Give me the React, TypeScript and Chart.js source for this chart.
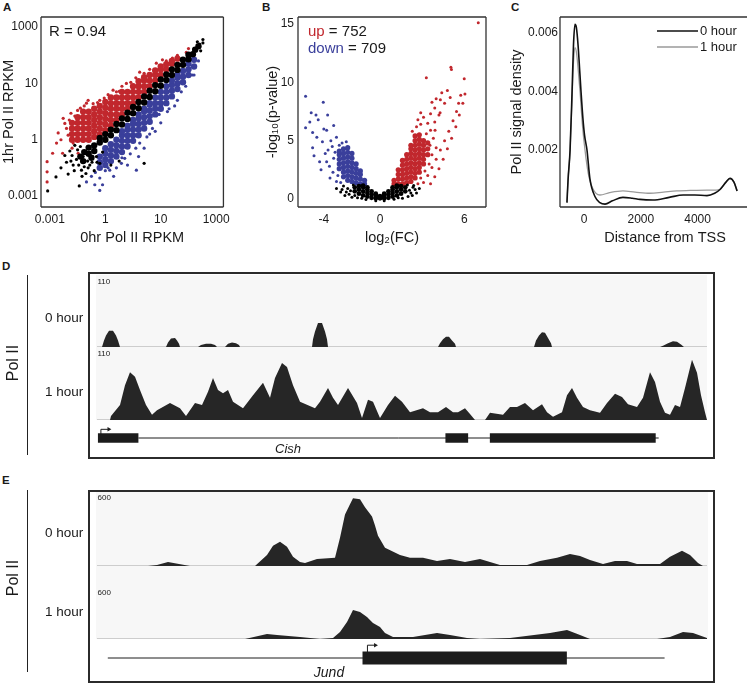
import React, { useEffect, useRef } from 'react';
import { Chart, registerables } from 'chart.js';

Chart.register(...registerables);

const FONT = '"Liberation Sans", Arial, Helvetica, sans-serif';
const INK = '#1a1a1a';
const RED = '#c1272d';
const BLUE = '#3a3f9b';
const BLACK = '#000000';
const TRACK_FILL = '#262626';
const TRACK_BG = '#f7f7f7';
const GENE_INK = '#1c1c1c';
const GRAY_LINE = '#9a9a9a';

// ---------------- Panel A data (axis units: tick index) ----------------
const A_TICK_VALUES = [0, 1, 2, 3];
const A_TICK_LABELS = ['0.001', '1', '10', '1000'];
const A_X_TITLE = '0hr Pol II RPKM';
const A_Y_TITLE = '1hr Pol II RPKM';
const A_R_LABEL = 'R = 0.94';

const A_BLACK_CORE = [
  [0.55, 0.7], [0.62, 0.78], [0.6, 0.62], [0.7, 0.86], [0.7, 0.75], [0.75, 0.68], [0.8, 0.9], [0.8, 0.8],
  [0.9, 0.95], [0.9, 1.03], [1.0, 1.0], [1.0, 1.1], [1.1, 1.08], [1.1, 1.18], [1.2, 1.17], [1.2, 1.28],
  [1.3, 1.27], [1.3, 1.38], [1.4, 1.37], [1.4, 1.48], [1.5, 1.47], [1.5, 1.58], [1.6, 1.56], [1.6, 1.67],
  [1.7, 1.66], [1.7, 1.77], [1.8, 1.76], [1.8, 1.87], [1.9, 1.86], [1.9, 1.97], [2.0, 1.96], [2.0, 2.07],
  [2.1, 2.06], [2.1, 2.16], [2.2, 2.15], [2.2, 2.25], [2.3, 2.24], [2.3, 2.33], [2.4, 2.33], [2.4, 2.42],
  [2.5, 2.43], [2.5, 2.51], [2.58, 2.52], [2.62, 2.6], [2.68, 2.66],
];
const A_BLACK_SPARSE = [
  [-0.04, 0.09], [0.11, 0.34], [0.33, 0.39], [0.42, 0.55], [0.53, 0.18], [0.57, 0.46], [0.69, 0.5],
  [0.9, 0.58], [1.1, 0.55], [1.25, 0.62], [1.7, 0.58], [0.48, 0.65], [0.62, 0.52], [0.65, 0.4],
  [0.76, 0.6], [0.5, 0.82], [0.4, 0.72], [0.84, 0.7], [0.3, 0.6], [0.2, 0.5], [0.58, 0.35], [0.8, 0.45],
  [0.45, 0.9], [0.36, 0.8], [0.95, 0.78], [0.52, 0.55], [0.68, 0.62], [0.44, 0.45], [0.72, 0.55],
  [0.6, 0.7], [0.85, 0.6], [0.38, 0.62], [0.27, 0.72], [0.55, 0.88],
  [2.76, 2.78], [2.76, 2.72], [2.7, 2.7], [2.72, 2.58], [2.66, 2.74],
];
const A_RED_CORE = [
  [0.4, 1.0], [0.4, 1.1], [0.4, 1.2], [0.4, 1.3],
  [0.5, 1.0], [0.5, 1.1], [0.5, 1.2], [0.5, 1.3], [0.5, 1.4],
  [0.6, 1.0], [0.6, 1.1], [0.6, 1.2], [0.6, 1.3], [0.6, 1.4], [0.6, 1.5],
  [0.7, 1.0], [0.7, 1.1], [0.7, 1.2], [0.7, 1.3], [0.7, 1.4], [0.7, 1.5],
  [0.8, 1.05], [0.8, 1.15], [0.8, 1.25], [0.8, 1.35], [0.8, 1.45], [0.8, 1.55],
  [0.9, 1.1], [0.9, 1.2], [0.9, 1.3], [0.9, 1.4], [0.9, 1.5], [0.9, 1.6],
  [1.0, 1.17], [1.0, 1.27], [1.0, 1.37], [1.0, 1.47], [1.0, 1.57], [1.0, 1.67],
  [1.1, 1.25], [1.1, 1.35], [1.1, 1.45], [1.1, 1.55], [1.1, 1.65], [1.1, 1.75],
  [1.2, 1.35], [1.2, 1.45], [1.2, 1.55], [1.2, 1.65], [1.2, 1.75],
  [1.3, 1.45], [1.3, 1.55], [1.3, 1.65], [1.3, 1.75], [1.3, 1.85],
  [1.4, 1.55], [1.4, 1.65], [1.4, 1.75], [1.4, 1.85],
  [1.5, 1.65], [1.5, 1.75], [1.5, 1.85], [1.5, 1.95],
  [1.6, 1.75], [1.6, 1.85], [1.6, 1.95], [1.6, 2.04],
  [1.7, 1.85], [1.7, 1.95], [1.7, 2.05], [1.7, 2.11],
  [1.8, 1.95], [1.8, 2.05], [1.8, 2.15],
  [1.9, 2.05], [1.9, 2.15], [1.9, 2.23],
  [2.0, 2.15], [2.0, 2.25], [2.0, 2.3],
  [2.1, 2.25], [2.1, 2.34], [2.2, 2.35], [2.2, 2.4], [2.3, 2.44],
];
const A_RED_SPARSE = [
  [-0.05, 0.61], [-0.05, 0.43], [-0.05, 0.25], [0.05, 0.76], [0.12, 0.94], [0.23, 0.76], [0.27, 1.29],
  [0.33, 1.08], [0.38, 1.47], [0.24, 1.38], [0.42, 0.94], [0.51, 0.76], [0.3, 1.2], [0.35, 1.35],
  [0.5, 1.52], [0.55, 1.56], [0.62, 1.6], [0.66, 1.65], [0.69, 1.7], [0.78, 1.64], [0.9, 1.7], [0.98, 1.74],
  [1.05, 1.8], [1.14, 1.88], [1.2, 1.85], [1.3, 1.95], [1.38, 2.0], [1.46, 2.02], [1.55, 2.1], [1.62, 2.2],
  [1.7, 2.18], [1.8, 2.25], [1.92, 2.36], [2.03, 2.42], [2.1, 2.4], [2.21, 2.45], [2.3, 2.5], [0.2, 1.0],
  [0.15, 1.12], [0.4, 0.85], [0.45, 1.42], [2.46, 2.55], [2.5, 2.62], [0.86, 1.66], [1.25, 1.86],
];
const A_BLUE_CORE = [
  [0.9, 0.5], [0.9, 0.6], [0.9, 0.7],
  [1.0, 0.55], [1.0, 0.65], [1.0, 0.75], [1.0, 0.85],
  [1.1, 0.62], [1.1, 0.72], [1.1, 0.82], [1.1, 0.92],
  [1.2, 0.7], [1.2, 0.8], [1.2, 0.9], [1.2, 1.0],
  [1.3, 0.78], [1.3, 0.88], [1.3, 0.98], [1.3, 1.08], [1.3, 1.15],
  [1.4, 0.88], [1.4, 0.98], [1.4, 1.08], [1.4, 1.18], [1.4, 1.25],
  [1.5, 0.98], [1.5, 1.08], [1.5, 1.18], [1.5, 1.28], [1.5, 1.35],
  [1.6, 1.08], [1.6, 1.18], [1.6, 1.28], [1.6, 1.38], [1.6, 1.45],
  [1.7, 1.2], [1.7, 1.3], [1.7, 1.4], [1.7, 1.5], [1.7, 1.55],
  [1.8, 1.32], [1.8, 1.42], [1.8, 1.52], [1.8, 1.62], [1.8, 1.65],
  [1.9, 1.45], [1.9, 1.55], [1.9, 1.65], [1.9, 1.75],
  [2.0, 1.55], [2.0, 1.65], [2.0, 1.75], [2.0, 1.85],
  [2.1, 1.65], [2.1, 1.75], [2.1, 1.85], [2.1, 1.95],
  [2.2, 1.77], [2.2, 1.87], [2.2, 1.97], [2.2, 2.05],
  [2.3, 1.9], [2.3, 2.0], [2.3, 2.1], [2.3, 2.15],
  [2.4, 2.02], [2.4, 2.12], [2.4, 2.22],
  [2.5, 2.15], [2.5, 2.25], [2.5, 2.35], [2.6, 2.3], [2.6, 2.42],
];
const A_BLUE_SPARSE = [
  [0.9, 0.1], [0.81, 0.2], [0.66, 0.25], [0.9, 0.32], [1.08, 0.46], [1.29, 0.58], [1.35, 0.67],
  [1.56, 0.46], [1.62, 0.94], [1.85, 1.2], [1.97, 1.45], [2.12, 1.5], [1.0, 0.45], [1.2, 0.5],
  [1.45, 0.75], [1.7, 0.85], [1.75, 1.05], [2.0, 1.3], [2.25, 1.6], [2.37, 1.85], [2.57, 2.15],
  [2.15, 1.55], [2.45, 1.95], [0.75, 0.35], [1.15, 0.35], [1.4, 0.55], [1.9, 1.15], [2.3, 1.7],
  [2.6, 2.15], [0.95, 0.2], [1.6, 0.7], [1.05, 0.5], [1.3, 0.68], [1.55, 0.85], [1.8, 1.1],
  [0.82, 0.42], [2.68, 2.4],
];

// ---------------- Panel B data (log2 FC, -log10 p) ----------------
const B_X_TICKS = [-4, 0, 6];
const B_Y_TICKS = [0, 5, 10, 15];
const B_X_TITLE = 'log₂(FC)';
const B_Y_TITLE = '-log₁₀(p-value)';
const B_UP_COUNT = 752;
const B_DOWN_COUNT = 709;

const B_BLACK_CORE = [
  [0, 0.05], [0, 0.25], [0.3, 0.05], [0.3, 0.3], [0.3, 0.45], [-0.3, 0.05], [-0.3, 0.3], [-0.3, 0.45],
  [0.6, 0.1], [0.6, 0.4], [0.6, 0.65], [-0.6, 0.1], [-0.6, 0.4], [-0.6, 0.65],
  [0.9, 0.2], [0.9, 0.5], [0.9, 0.8], [0.9, 1.0], [-0.9, 0.2], [-0.9, 0.5], [-0.9, 0.8], [-0.9, 1.0],
  [1.2, 0.3], [1.2, 0.65], [1.2, 1.0], [1.2, 1.15], [-1.2, 0.3], [-1.2, 0.65], [-1.2, 1.0], [-1.2, 1.15],
  [1.5, 0.45], [1.5, 0.8], [1.5, 1.1], [-1.5, 0.45], [-1.5, 0.8], [-1.5, 1.1],
  [1.8, 0.65], [1.8, 1.0], [-1.8, 0.65], [-1.8, 1.0], [0.15, 0.15], [-0.15, 0.15],
];
const B_BLACK_SPARSE = [
  [-3.1, 0.9], [-2.8, 0.6], [-2.5, 0.3], [-2.2, 0.4], [-2.6, 1.1], [2.35, 1.0], [2.5, 0.8], [2.2, 0.5],
  [2.0, 0.2], [-2.0, 0.15], [1.6, 0.05], [-1.6, 0.1], [2.8, 0.9], [-2.3, 0.9], [-2.1, 0.7], [2.1, 0.75],
  [-1.3, 0.05], [1.3, 0.1], [-2.7, 0.8], [2.6, 0.5], [-1.0, -0.05], [1.0, -0.02], [0.3, -0.15],
  [-0.3, -0.15], [2.4, 1.15], [-1.9, 1.2], [1.95, 1.2], [-2.4, 0.6], [2.3, 0.3], [-1.8, 0.3],
];
const B_RED_CORE = [
  [1.0, 1.3], [1.0, 1.6],
  [1.3, 1.3], [1.3, 1.7], [1.3, 2.1], [1.3, 2.5],
  [1.6, 1.3], [1.6, 1.7], [1.6, 2.1], [1.6, 2.5], [1.6, 2.9], [1.6, 3.3],
  [1.9, 1.4], [1.9, 1.8], [1.9, 2.2], [1.9, 2.6], [1.9, 3.0], [1.9, 3.4], [1.9, 3.8],
  [2.2, 1.5], [2.2, 1.9], [2.2, 2.3], [2.2, 2.7], [2.2, 3.1], [2.2, 3.5], [2.2, 3.9], [2.2, 4.3], [2.2, 4.6],
  [2.5, 1.8], [2.5, 2.2], [2.5, 2.6], [2.5, 3.0], [2.5, 3.4], [2.5, 3.8], [2.5, 4.2], [2.5, 4.6], [2.5, 5.0], [2.5, 5.4],
  [2.8, 2.3], [2.8, 2.7], [2.8, 3.1], [2.8, 3.5], [2.8, 3.9], [2.8, 4.3], [2.8, 4.7], [2.8, 5.1], [2.8, 5.5],
  [3.1, 3.0], [3.1, 3.4], [3.1, 3.8], [3.1, 4.2], [3.1, 4.6], [3.1, 5.0],
  [3.4, 3.8], [3.4, 4.3], [3.4, 4.8],
];
const B_RED_SPARSE = [
  [2.3, 5.8], [2.6, 6.2], [2.9, 6.4], [2.7, 6.8], [3.1, 7.0], [2.9, 7.4], [3.4, 6.5], [3.6, 7.3],
  [3.9, 7.8], [3.7, 8.3], [4.0, 8.6], [4.3, 8.5], [4.4, 9.1], [4.8, 9.3], [4.6, 8.2], [5.0, 8.7],
  [3.3, 10.4], [5.09, 11.1], [5.05, 11.3], [6.0, 10.3], [7.0, 15.1], [3.6, 5.9], [3.8, 5.2], [4.0, 4.4],
  [3.7, 3.8], [3.5, 3.0], [3.2, 2.4], [2.9, 1.8], [2.7, 1.3], [3.3, 5.6], [3.9, 6.6], [4.2, 7.2],
  [3.1, 1.4], [3.4, 2.0], [3.7, 2.7], [4.0, 3.4], [4.3, 4.2], [4.6, 5.0], [4.9, 5.8], [5.2, 6.7],
  [5.45, 7.5], [5.6, 8.2], [5.75, 8.9], [3.6, 1.3], [3.9, 1.9], [4.2, 2.6], [4.5, 3.4], [4.8, 4.3],
  [5.1, 5.2], [5.4, 6.2], [5.65, 7.2], [5.9, 8.2], [6.05, 9.0], [3.56, 4.6], [3.92, 5.9], [4.28, 7.4],
];
const B_BLUE_CORE = [
  [-1.1, 1.3], [-1.1, 1.6],
  [-1.4, 1.3], [-1.4, 1.7], [-1.4, 2.1], [-1.4, 2.4],
  [-1.7, 1.4], [-1.7, 1.8], [-1.7, 2.2], [-1.7, 2.6], [-1.7, 3.0],
  [-2.0, 1.5], [-2.0, 1.9], [-2.0, 2.3], [-2.0, 2.7], [-2.0, 3.1], [-2.0, 3.5], [-2.0, 3.9],
  [-2.3, 1.6], [-2.3, 2.0], [-2.3, 2.4], [-2.3, 2.8], [-2.3, 3.2], [-2.3, 3.6], [-2.3, 4.0], [-2.3, 4.4],
  [-2.6, 1.9], [-2.6, 2.3], [-2.6, 2.7], [-2.6, 3.1], [-2.6, 3.5], [-2.6, 3.9], [-2.6, 4.3],
  [-2.9, 2.6], [-2.9, 3.0], [-2.9, 3.4], [-2.9, 3.8], [-2.9, 4.1],
];
const B_BLUE_SPARSE = [
  [-5.3, 8.8], [-4.04, 8.3], [-4.9, 7.4], [-4.56, 7.2], [-3.73, 7.2], [-5.3, 6.1], [-4.4, 6.8],
  [-4.8, 5.7], [-3.8, 5.9], [-4.1, 4.9], [-3.1, 5.3], [-3.4, 4.5], [-4.8, 4.4], [-4.3, 3.2],
  [-3.56, 1.8], [-3.35, 2.3], [-3.9, 3.9], [-3.3, 3.5], [-3.6, 2.8], [-3.1, 1.5], [-3.0, 2.0],
  [-2.7, 4.8], [-2.4, 4.9], [-3.3, 6.3], [-4.5, 5.3], [-5.0, 6.6], [-4.7, 3.7], [-3.8, 3.2],
  [-4.2, 2.5], [-2.8, 1.4], [-3.5, 5.0], [-3.2, 4.0], [-3.7, 4.2], [-2.9, 4.6], [-4.0, 6.0],
];

// ---------------- Panel C data ----------------
const C_X_TICKS = [0, 2000, 4000];
const C_Y_TICKS = [0.002, 0.004, 0.006];
const C_X_TITLE = 'Distance from TSS';
const C_Y_TITLE = 'Pol II signal density';
const C_SERIES_LABELS = ['0 hour', '1 hour'];
const C_HOUR0 = [
  [-600, 0.0002], [-560, 0.001], [-490, 0.002], [-420, 0.004], [-370, 0.0056], [-317, 0.0063],
  [-270, 0.0062], [-210, 0.0056], [-150, 0.0047], [-105, 0.004], [-40, 0.0031], [20, 0.0025],
  [105, 0.002], [210, 0.001], [390, 0.0004], [560, 0.0002], [740, 0.00015], [1000, 0.00026],
  [1370, 0.00038], [1700, 0.00035], [1970, 0.00031], [2430, 0.00029], [3000, 0.00038], [3490, 0.00046],
  [3900, 0.00046], [4330, 0.00044], [4600, 0.00052], [4790, 0.00065], [5000, 0.0009], [5140, 0.00103],
  [5280, 0.0009], [5390, 0.0006],
];
const C_HOUR1 = [
  [-600, 0.0002], [-560, 0.001], [-490, 0.002], [-420, 0.0038], [-370, 0.005], [-317, 0.0055],
  [-260, 0.0053], [-200, 0.0047], [-140, 0.004], [-50, 0.0028], [35, 0.002], [150, 0.0012],
  [300, 0.0007], [560, 0.00046], [900, 0.00054], [1370, 0.0006], [1800, 0.00056], [2320, 0.00052],
  [2800, 0.00056], [3270, 0.0006], [3800, 0.00062], [4330, 0.00063], [4650, 0.00063], [4790, 0.00066],
  [5000, 0.0009], [5140, 0.00103], [5280, 0.0009], [5390, 0.0006],
];

// ---------------- Panel D / E genome tracks ----------------
const TRACK_SPAN = 610;
const HOUR_LABELS = ['0 hour', '1 hour'];
const D_MAX = 110;
const E_MAX = 600;
const D_HOUR0 = [
  [0, 0], [5, 0], [7, 10], [9, 18], [12, 25], [16, 25], [19, 18], [21, 10], [23, 0], [69, 0], [71, 7],
  [74, 13], [78, 14], [80, 10], [82, 5], [83, 0], [101, 0], [104, 3], [109, 5], [114, 5], [118, 3],
  [120, 0], [128, 0], [131, 5], [135, 7], [139, 6], [142, 3], [143, 0], [215, 0], [216, 12], [218, 24],
  [221, 37], [225, 37], [228, 24], [230, 12], [231, 0], [341, 0], [343, 6], [346, 12], [349, 16],
  [352, 16], [355, 10], [358, 5], [359, 0], [437, 0], [439, 10], [442, 18], [445, 23], [448, 22],
  [451, 14], [454, 6], [455, 0], [563, 0], [566, 2], [571, 6], [576, 9], [580, 8], [584, 4], [587, 0],
  [610, 0],
];
const D_HOUR1 = [
  [0, 0], [13, 0], [14, 6], [23, 23], [28, 53], [33, 73], [38, 66], [43, 46], [49, 23], [55, 8], [60, 15],
  [73, 26], [83, 18], [89, 6], [98, 26], [105, 23], [111, 43], [116, 64], [121, 46], [126, 41], [131, 46],
  [136, 28], [146, 18], [156, 38], [166, 57], [173, 34], [178, 64], [185, 87], [190, 81], [196, 53],
  [203, 28], [218, 18], [223, 28], [231, 49], [236, 34], [241, 23], [251, 49], [260, 26], [265, 3],
  [271, 31], [276, 28], [283, 3], [291, 23], [298, 37], [305, 28], [313, 12], [326, 18], [333, 12],
  [341, 12], [349, 20], [356, 12], [361, 12], [368, 18], [373, 9], [378, 0], [388, 0], [393, 11],
  [406, 8], [413, 20], [420, 20], [428, 26], [436, 15], [445, 24], [450, 12], [456, 5], [465, 12],
  [470, 38], [475, 49], [480, 34], [486, 20], [493, 15], [503, 11], [510, 26], [518, 40], [525, 35],
  [531, 24], [540, 20], [546, 34], [553, 73], [558, 58], [563, 28], [568, 11], [573, 8], [578, 23],
  [583, 20], [588, 49], [595, 92], [600, 72], [604, 38], [608, 12], [610, 0],
];
const E_HOUR0 = [
  [0, 0], [51, 0], [60, 8], [71, 33], [82, 16], [93, 0], [158, 0], [170, 90], [176, 164], [183, 197],
  [190, 156], [196, 74], [203, 33], [208, 25], [220, 57], [238, 66], [243, 230], [248, 418], [253, 500],
  [256, 549], [263, 541], [268, 476], [275, 402], [278, 328], [281, 246], [288, 148], [303, 90],
  [313, 66], [326, 66], [340, 41], [353, 57], [368, 33], [383, 57], [393, 33], [403, 8], [430, 8],
  [443, 41], [460, 66], [473, 98], [483, 82], [493, 49], [506, 16], [518, 41], [530, 41], [540, 16],
  [563, 16], [573, 74], [585, 123], [593, 90], [601, 25], [606, 0], [610, 0],
];
const E_HOUR1 = [
  [0, 0], [148, 0], [170, 58], [180, 46], [203, 23], [223, 0], [236, 12], [243, 80], [250, 196],
  [256, 334], [263, 311], [270, 253], [276, 184], [283, 138], [288, 69], [296, 23], [316, 23], [340, 69],
  [353, 46], [370, 12], [383, 0], [413, 12], [453, 69], [470, 104], [483, 46], [493, 0], [560, 0],
  [573, 23], [586, 80], [596, 69], [610, 12],
];

// gene models (same coordinate system as tracks)
const D_GENE = 'Cish';
const D_INTRON = [38, 565];
const D_EXONS = [[-3, 38], [349, 372], [394, 562]];
const D_TSS = 0;
const E_GENE = 'Jund';
const E_INTRON = [7, 571];
const E_EXONS = [[265, 472]];
const E_TSS = 270;
const ARROW_LEN = 8;
const GENE_Y = 0.5;

// ---------------- helpers ----------------
const pts = (a: number[][]) => a.map(([x, y]) => ({ x, y }));

const BASE = {
  animation: false,
  responsive: false,
  events: [] as string[],
  plugins: { legend: { display: false }, tooltip: { enabled: false } },
};

function scatterSet(data: number[][], color: string, r: number) {
  return {
    data: pts(data),
    backgroundColor: color,
    borderColor: color,
    borderWidth: 0,
    pointRadius: r,
    pointHoverRadius: r,
    pointStyle: 'circle',
  };
}

function bottomAxis(min: number, max: number, ticks: number[], fmt: (v: number, i: number) => string, title: string, height: number) {
  return {
    type: 'linear',
    position: 'bottom',
    min,
    max,
    afterBuildTicks: (s: any) => { s.ticks = ticks.map((v) => ({ value: v })); },
    afterFit: (s: any) => { s.height = height; },
    grid: { display: false, drawTicks: false },
    border: { display: false },
    ticks: {
      autoSkip: false, maxRotation: 0, minRotation: 0, padding: 5, color: INK,
      font: { family: FONT, size: 12 },
      callback: (v: number, i: number) => fmt(v, i),
    },
    title: { display: true, text: title, color: INK, font: { family: FONT, size: 14.5 }, padding: { top: 0, bottom: 3.3 } },
  };
}

function leftAxis(min: number, max: number, ticks: number[], fmt: (v: number, i: number) => string, title: string, width: number, tickPad: number, titlePad: number) {
  return {
    type: 'linear',
    position: 'left',
    min,
    max,
    afterBuildTicks: (s: any) => { s.ticks = ticks.map((v) => ({ value: v })); },
    afterFit: (s: any) => { s.width = width; },
    grid: { display: false, drawTicks: false },
    border: { display: false },
    ticks: {
      autoSkip: false, padding: tickPad, color: INK,
      font: { family: FONT, size: 12 },
      callback: (v: number, i: number) => fmt(v, i),
    },
    title: { display: true, text: title, color: INK, font: { family: FONT, size: 14.5 }, padding: { top: titlePad, bottom: 0 } },
  };
}

function framePlugin(sides: { left?: boolean; right?: boolean; top?: boolean; bottom?: boolean }) {
  return {
    id: 'frame',
    afterDatasetsDraw(chart: any) {
      const { ctx, chartArea: a } = chart;
      ctx.save();
      ctx.strokeStyle = '#333333';
      ctx.lineWidth = 1.3;
      ctx.beginPath();
      if (sides.top) { ctx.moveTo(a.left, a.top); ctx.lineTo(a.right, a.top); }
      if (sides.bottom) { ctx.moveTo(a.left, a.bottom); ctx.lineTo(a.right, a.bottom); }
      if (sides.left) { ctx.moveTo(a.left, a.top); ctx.lineTo(a.left, a.bottom); }
      if (sides.right) { ctx.moveTo(a.right, a.top); ctx.lineTo(a.right, a.bottom); }
      ctx.stroke();
      ctx.restore();
    },
  };
}

const lineLegendPlugin = {
  id: 'lineLegend',
  afterDraw(chart: any) {
    const { ctx } = chart;
    chart.data.datasets.forEach((ds: any, i: number) => {
      const y = 31 + i * 16;
      ctx.save();
      ctx.strokeStyle = ds.borderColor;
      ctx.lineWidth = ds.borderWidth;
      ctx.beginPath();
      ctx.moveTo(167, y);
      ctx.lineTo(208, y);
      ctx.stroke();
      ctx.fillStyle = INK;
      ctx.font = `13px ${FONT}`;
      ctx.textBaseline = 'middle';
      ctx.fillText(ds.label, 210, y + 0.5);
      ctx.restore();
    });
  },
};

const baselinePlugin = {
  id: 'baseline',
  beforeDatasetsDraw(chart: any) {
    const { ctx, chartArea: a, scales } = chart;
    const y = Math.round(scales.y.getPixelForValue(0)) - 0.5;
    ctx.save();
    ctx.strokeStyle = '#cdcdcd';
    ctx.lineWidth = 1;
    ctx.beginPath();
    ctx.moveTo(a.left, y);
    ctx.lineTo(a.right, y);
    ctx.stroke();
    ctx.restore();
  },
};

// ---------------- chart configs ----------------
const configA = () => ({
  type: 'scatter',
  data: {
    datasets: [
      scatterSet(A_BLACK_CORE, BLACK, 3.2),
      scatterSet(A_BLACK_SPARSE, BLACK, 1.6),
      scatterSet(A_RED_CORE, RED, 3.2),
      scatterSet(A_BLUE_CORE, BLUE, 3.2),
      scatterSet(A_RED_SPARSE, RED, 1.6),
      scatterSet(A_BLUE_SPARSE, BLUE, 1.6),
    ],
  },
  options: {
    ...BASE,
    layout: { padding: { left: 0, top: 17, right: 11, bottom: 0 } },
    scales: {
      x: bottomAxis(-0.16, 3.13, A_TICK_VALUES, (_v, i) => A_TICK_LABELS[i], A_X_TITLE, 43),
      y: leftAxis(-0.195, 3.18, A_TICK_VALUES, (_v, i) => A_TICK_LABELS[i], A_Y_TITLE, 41, 3, 0.3),
    },
  },
  plugins: [framePlugin({ left: true, right: true, top: true, bottom: true })],
});

const configB = () => ({
  type: 'scatter',
  data: {
    datasets: [
      scatterSet(B_BLACK_CORE, BLACK, 2.4),
      scatterSet(B_BLACK_SPARSE, BLACK, 1.5),
      scatterSet(B_RED_CORE, RED, 2.6),
      scatterSet(B_BLUE_CORE, BLUE, 2.6),
      scatterSet(B_RED_SPARSE, RED, 1.5),
      scatterSet(B_BLUE_SPARSE, BLUE, 1.5),
    ],
  },
  options: {
    ...BASE,
    layout: { padding: { left: 0, top: 17, right: 4, bottom: 0 } },
    scales: {
      x: bottomAxis(-5.84, 7.55, B_X_TICKS, (v) => String(v), B_X_TITLE, 43),
      y: leftAxis(-0.69, 15.6, B_Y_TICKS, (v) => String(v), B_Y_TITLE, 58, 4, 24.3),
    },
  },
  plugins: [framePlugin({ left: true, right: true, top: true, bottom: true })],
});

const configC = () => ({
  type: 'scatter',
  data: {
    datasets: [
      {
        label: C_SERIES_LABELS[0], data: pts(C_HOUR0), showLine: true, borderColor: '#111111', borderWidth: 1.6,
        pointRadius: 0, cubicInterpolationMode: 'monotone',
      },
      {
        label: C_SERIES_LABELS[1], data: pts(C_HOUR1), showLine: true, borderColor: GRAY_LINE, borderWidth: 1.3,
        pointRadius: 0, cubicInterpolationMode: 'monotone',
      },
    ],
  },
  options: {
    ...BASE,
    layout: { padding: { left: 0, top: 17, right: 20, bottom: 0 } },
    scales: {
      x: bottomAxis(-845, 6549, C_X_TICKS, (v) => String(v), C_X_TITLE, 43),
      y: leftAxis(0.00005, 0.00655, C_Y_TICKS, (v) => v.toFixed(3), C_Y_TITLE, 70, 2, 18.3),
    },
  },
  plugins: [framePlugin({ left: true, top: true, bottom: true }), lineLegendPlugin],
});

function trackConfig(points: number[][], max: number) {
  return {
    type: 'line',
    data: {
      datasets: [{
        data: pts(points), fill: 'origin', backgroundColor: TRACK_FILL, borderColor: 'transparent',
        borderWidth: 0, pointRadius: 0, tension: 0,
      }],
    },
    options: {
      ...BASE,
      layout: { padding: 0 },
      scales: {
        x: { type: 'linear', display: false, min: 0, max: TRACK_SPAN },
        y: { type: 'linear', display: false, min: 0, max },
      },
    },
    plugins: [baselinePlugin],
  };
}

function geneConfig(intron: number[], exons: number[][], tss: number, arrowTop: number, exonWidth: number) {
  const ds: any[] = [];
  exons.forEach(([s, e]) => ds.push({
    data: pts([[s, GENE_Y], [e, GENE_Y]]), showLine: true, borderColor: GENE_INK, borderWidth: exonWidth,
    pointRadius: 0, borderCapStyle: 'butt',
  }));
  ds.push({
    data: pts([[intron[0], GENE_Y], [intron[1], GENE_Y]]), showLine: true, borderColor: GENE_INK,
    borderWidth: 1, pointRadius: 0,
  });
  ds.push({
    data: pts([[tss, GENE_Y], [tss, arrowTop], [tss + ARROW_LEN, arrowTop]]), showLine: true,
    borderColor: GENE_INK, borderWidth: 1, pointRadius: [0, 0, 2.6], pointStyle: 'triangle', rotation: 90,
    backgroundColor: GENE_INK, pointBorderWidth: 0, clip: false,
  });
  return {
    type: 'scatter',
    data: { datasets: ds },
    options: {
      ...BASE,
      layout: { padding: 0 },
      scales: {
        x: { type: 'linear', display: false, min: -8, max: TRACK_SPAN + 7 },
        y: { type: 'linear', display: false, min: 0, max: 1 },
      },
    },
  };
}

// ---------------- React components ----------------
type Box = { left: number; top: number; width: number; height: number };

function ChartCanvas({ box, config }: { box: Box; config: () => any }) {
  const ref = useRef<HTMLCanvasElement | null>(null);
  useEffect(() => {
    if (!ref.current) return;
    const chart = new Chart(ref.current, config());
    return () => chart.destroy();
  }, []);
  return (
    <canvas
      ref={ref}
      width={box.width}
      height={box.height}
      style={{ position: 'absolute', left: box.left, top: box.top, width: box.width, height: box.height, display: 'block' }}
    />
  );
}

function Txt({ x, y, size = 14, center = false, style = {}, children }: any) {
  return (
    <div
      style={{
        position: 'absolute', left: x, top: y, fontSize: size, lineHeight: 1, whiteSpace: 'nowrap', color: INK,
        transform: `translate(${center ? '-50%' : '0'}, -50%)`, ...style,
      }}
    >
      {children}
    </div>
  );
}

function VText({ x, y, size, children }: any) {
  return (
    <div
      style={{
        position: 'absolute', left: x, top: y, fontSize: size, lineHeight: 1, whiteSpace: 'nowrap', color: INK,
        transform: 'translate(-50%, -50%) rotate(-90deg)',
      }}
    >
      {children}
    </div>
  );
}

const letterStyle = { fontWeight: 700 };

export default function App() {
  return (
    <div
      style={{
        position: 'absolute', left: 0, top: 0, width: 747, height: 685, overflow: 'hidden', background: '#ffffff',
        fontFamily: FONT,
      }}
    >
      {/* Panel letters */}
      <Txt x={3} y={8} size={11.5} style={letterStyle}>A</Txt>
      <Txt x={262} y={8} size={11.5} style={letterStyle}>B</Txt>
      <Txt x={511} y={8} size={11.5} style={letterStyle}>C</Txt>
      <Txt x={2} y={266.5} size={11.5} style={letterStyle}>D</Txt>
      <Txt x={2} y={481} size={11.5} style={letterStyle}>E</Txt>

      {/* Top charts */}
      <ChartCanvas box={{ left: 0, top: 0, width: 235, height: 250 }} config={configA} />
      <ChartCanvas box={{ left: 240, top: 0, width: 250, height: 250 }} config={configB} />
      <ChartCanvas box={{ left: 490, top: 0, width: 300, height: 250 }} config={configC} />

      <Txt x={49} y={30} size={15}>{A_R_LABEL}</Txt>
      <Txt x={308} y={30} size={15}><span style={{ color: RED }}>up</span> = {B_UP_COUNT}</Txt>
      <Txt x={308} y={47} size={15}><span style={{ color: BLUE }}>down</span> = {B_DOWN_COUNT}</Txt>

      {/* Panel D */}
      <div style={{ position: 'absolute', left: 96, top: 275, width: 611, height: 145, background: TRACK_BG }} />
      <ChartCanvas box={{ left: 97, top: 276, width: TRACK_SPAN, height: 71 }} config={() => trackConfig(D_HOUR0, D_MAX)} />
      <ChartCanvas box={{ left: 97, top: 348, width: TRACK_SPAN, height: 72 }} config={() => trackConfig(D_HOUR1, D_MAX)} />
      <ChartCanvas box={{ left: 89, top: 420, width: 625, height: 36 }} config={() => geneConfig(D_INTRON, D_EXONS, D_TSS, 0.81, 9.5)} />
      <Txt x={97.5} y={282} size={8}>{D_MAX}</Txt>
      <Txt x={97.5} y={354} size={8}>{D_MAX}</Txt>
      <Txt x={288} y={448} size={13} center style={{ fontStyle: 'italic' }}>{D_GENE}</Txt>
      <div style={{ position: 'absolute', left: 88, top: 272, width: 627, height: 187, border: '2px solid #2b2b2b', boxSizing: 'border-box' }} />
      <VText x={13} y={363} size={16}>Pol II</VText>
      <div style={{ position: 'absolute', left: 26.5, top: 275, width: 1.2, height: 180, background: '#222' }} />
      <Txt x={45} y={318} size={13.5}>{HOUR_LABELS[0]}</Txt>
      <Txt x={45} y={392} size={13.5}>{HOUR_LABELS[1]}</Txt>

      {/* Panel E */}
      <div style={{ position: 'absolute', left: 96, top: 492, width: 612, height: 147, background: TRACK_BG }} />
      <ChartCanvas box={{ left: 97, top: 492, width: TRACK_SPAN, height: 74 }} config={() => trackConfig(E_HOUR0, E_MAX)} />
      <ChartCanvas box={{ left: 97, top: 587, width: TRACK_SPAN, height: 52 }} config={() => trackConfig(E_HOUR1, E_MAX)} />
      <ChartCanvas box={{ left: 89, top: 638, width: 625, height: 40 }} config={() => geneConfig(E_INTRON, E_EXONS, E_TSS, 0.9, 13)} />
      <Txt x={97.5} y={498} size={8}>{E_MAX}</Txt>
      <Txt x={97.5} y={593} size={8}>{E_MAX}</Txt>
      <Txt x={329} y={672} size={14} center style={{ fontStyle: 'italic' }}>{E_GENE}</Txt>
      <div style={{ position: 'absolute', left: 88, top: 490, width: 627, height: 193, border: '2px solid #2b2b2b', boxSizing: 'border-box' }} />
      <VText x={13} y={578} size={16}>Pol II</VText>
      <div style={{ position: 'absolute', left: 26.5, top: 490, width: 1.2, height: 182, background: '#222' }} />
      <Txt x={45} y={533} size={13.5}>{HOUR_LABELS[0]}</Txt>
      <Txt x={45} y={612} size={13.5}>{HOUR_LABELS[1]}</Txt>
    </div>
  );
}
